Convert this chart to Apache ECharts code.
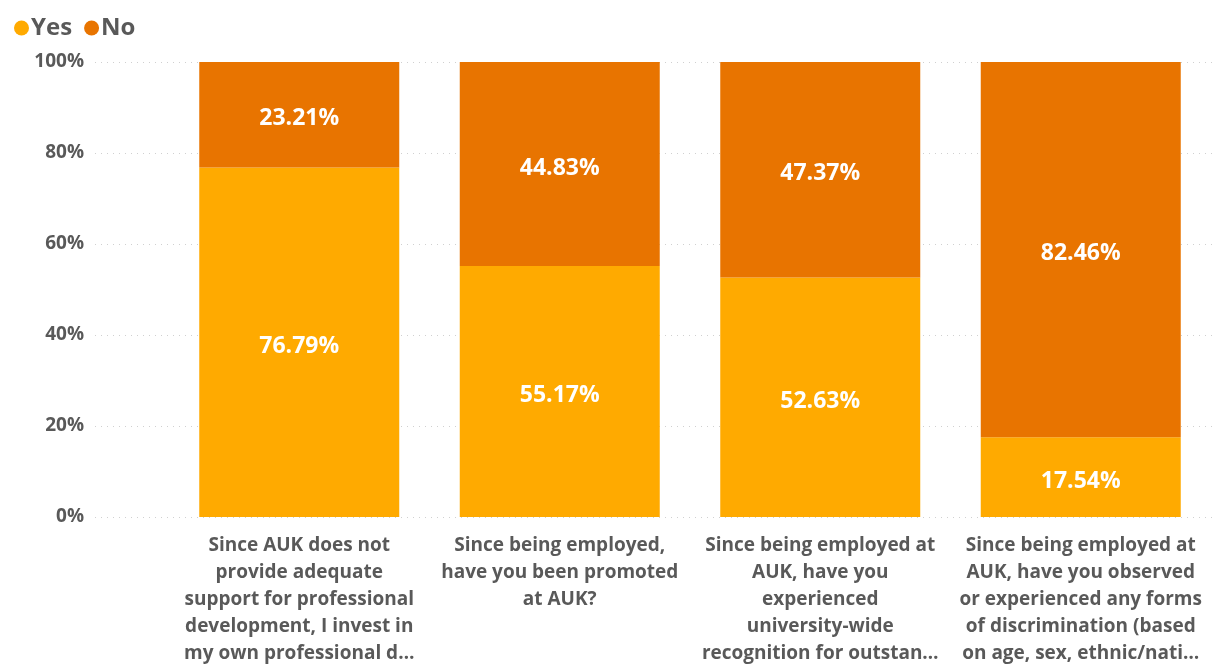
<!DOCTYPE html>
<html>
<head>
<meta charset="utf-8">
<script src="https://cdn.jsdelivr.net/npm/echarts@6/dist/echarts.min.js"></script>
<style>
  html, body { margin: 0; padding: 0; background: #fff; overflow: hidden; }
  #chart { width: 100vw; height: 100vh; }
</style>
</head>
<body>
<div id="chart"></div>
<script>
// Survey questions (category labels, already shortened as displayed)
const categories = [
  'Since AUK does not\nprovide adequate\nsupport for professional\ndevelopment, I invest in\nmy own professional d…',
  'Since being employed,\nhave you been promoted\nat AUK?',
  'Since being employed at\nAUK, have you\nexperienced\nuniversity-wide\nrecognition for outstan…',
  'Since being employed at\nAUK, have you observed\nor experienced any forms\nof discrimination (based\non age, sex, ethnic/nati…'
];
const yesValues = [76.79, 55.17, 52.63, 17.54];
const noValues = [23.21, 44.83, 47.37, 82.46];
const yTicks = [0, 20, 40, 60, 80, 100];

const textColor = '#595959';
const font = '"Open Sans", "Noto Sans", sans-serif';

const chart = echarts.init(document.getElementById('chart'));
chart.setOption({
  animation: false,
  legend: {
    left: 9,
    top: 11,
    itemWidth: 15,
    itemHeight: 15,
    itemGap: 12,
    icon: 'circle',
    textStyle: { color: textColor, fontSize: 24, fontWeight: 'bold', fontFamily: font, padding: [0, 0, 0, -3] },
    data: ['Yes', 'No']
  },
  grid: [
    // axis frame: tick labels + dotted gridlines across the full width
    { left: 95, right: 0, top: 62, bottom: 147, containLabel: false, outerBoundsMode: 'none' },
    // bar area
    { left: 169, right: 6, top: 62, bottom: 147, containLabel: false, outerBoundsMode: 'none' }
  ],
  xAxis: [
    { type: 'value', gridIndex: 0, show: false, min: 0, max: 1 },
    {
      type: 'category',
      gridIndex: 1,
      data: categories,
      axisLine: { show: false },
      axisTick: { show: false },
      axisLabel: {
        interval: 0,
        margin: 15,
        color: textColor,
        fontSize: 19,
        fontWeight: 'bold',
        fontFamily: font,
        lineHeight: 27,
        align: 'center'
      }
    }
  ],
  yAxis: [
    {
      type: 'value',
      gridIndex: 0,
      min: 0,
      max: 100,
      interval: 20,
      axisLine: { show: false },
      axisTick: { show: false },
      axisLabel: {
        margin: 11,
        color: textColor,
        fontSize: 19,
        fontWeight: 'bold',
        fontFamily: font,
        formatter: v => yTicks.includes(v) ? v + '%' : ''
      },
      splitLine: { show: true, lineStyle: { color: '#D0D0D0', type: [1, 5], width: 1 } }
    },
    { type: 'value', gridIndex: 1, min: 0, max: 100, show: false }
  ],
  series: [
    {
      name: 'Yes',
      type: 'bar',
      stack: 'total',
      xAxisIndex: 1,
      yAxisIndex: 1,
      barWidth: 200,
      data: yesValues,
      itemStyle: { color: '#FFAA00' },
      label: {
        show: true,
        position: 'inside',
        offset: [0, 4],
        color: '#fff',
        fontSize: 23,
        fontWeight: 'bold',
        fontFamily: font,
        formatter: p => p.value.toFixed(2) + '%'
      }
    },
    {
      name: 'No',
      type: 'bar',
      stack: 'total',
      xAxisIndex: 1,
      yAxisIndex: 1,
      barWidth: 200,
      data: noValues,
      itemStyle: { color: '#E87400' },
      label: {
        show: true,
        position: 'inside',
        offset: [0, 4],
        color: '#fff',
        fontSize: 23,
        fontWeight: 'bold',
        fontFamily: font,
        formatter: p => p.value.toFixed(2) + '%'
      }
    },
    // empty series that keeps the frame grid in use
    { type: 'line', xAxisIndex: 0, yAxisIndex: 0, data: [], silent: true }
  ]
});
</script>
</body>
</html>
